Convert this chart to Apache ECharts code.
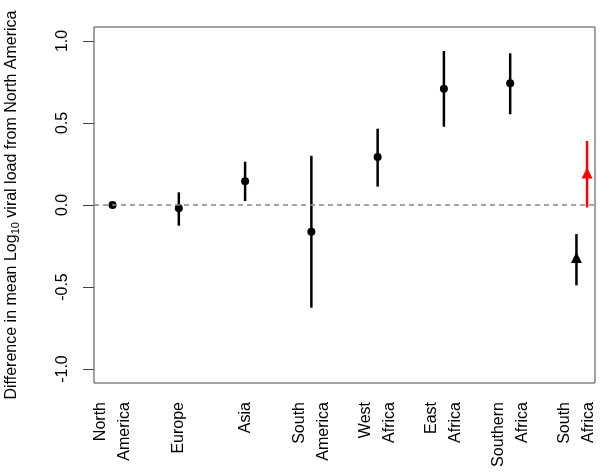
<!DOCTYPE html>
<html>
<head>
<meta charset="utf-8">
<script src="https://cdn.jsdelivr.net/npm/echarts@6/dist/echarts.min.js"></script>
<style>
  html, body { margin: 0; padding: 0; background: #fff; }
  #chart { width: 602px; height: 475px; }
</style>
</head>
<body>
<div id="chart"></div>
<script>
// regions along x, at positions 1..8
const regions = ['North\nAmerica', 'Europe', 'Asia', 'South\nAmerica', 'West\nAfrica', 'East\nAfrica', 'Southern\nAfrica', 'South\nAfrica']
const regionPos = [1, 2, 3, 4, 5, 6, 7, 8]
// mean difference and interval ends (black)
const meanDiff = [0, -0.02, 0.145, -0.163, 0.293, 0.709, 0.742, -0.32]
const lowerCI = [0, -0.126, 0.024, -0.626, 0.112, 0.477, 0.553, -0.49]
const upperCI = [0, 0.077, 0.264, 0.30, 0.465, 0.939, 0.925, -0.177]
// red South Africa estimate, drawn a bit to the right
const redPos = [8.16]
const redMean = [0.195]
const redLower = [-0.015]
const redUpper = [0.39]
const yTicks = [-1, -0.5, 0, 0.5, 1]

let chart = echarts.init(document.getElementById('chart'), null, { renderer: 'canvas' })

// 误差线
function errBar(color) {
  return function (params, api) {
    let p1 = api.coord([api.value(0), api.value(1)])
    let p2 = api.coord([api.value(0), api.value(2)])
    return {
      type: 'line',
      shape: { x1: p1[0], y1: p1[1], x2: p2[0], y2: p2[1] },
      style: { stroke: color, lineWidth: 2.5 }
    }
  }
}

let barData = regionPos.map((x, i) => [x, lowerCI[i], upperCI[i]])
let redBarData = redPos.map((x, i) => [x, redLower[i], redUpper[i]])
let pointData = regionPos.map((x, i) => ({
  value: [x, meanDiff[i]],
  symbol: i === 7 ? 'triangle' : 'circle',
  symbolSize: i === 7 ? 11 : 8
}))
let redPointData = redPos.map((x, i) => [x, redMean[i]])

let option = {
  animation: false,
  grid: {
    left: 94, top: 27, right: 7, bottom: 92,
    outerBoundsMode: 'none',
    show: true, borderColor: '#444', borderWidth: 1
  },
  xAxis: {
    type: 'value',
    min: 0.72,
    max: 8.28,
    axisLine: { show: false },
    axisTick: { show: false },
    splitLine: { show: false },
    axisLabel: {
      customValues: regionPos,
      rotate: 90,
      margin: 19,
      fontFamily: 'Liberation Sans',
      fontSize: 16,
      lineHeight: 24,
      color: '#000',
      formatter: (v) => regions[regionPos.indexOf(v)]
    }
  },
  yAxis: {
    type: 'value',
    min: -1.085,
    max: 1.085,
    name: 'Difference in mean Log{sub|10} viral load from North America',
    nameLocation: 'middle',
    nameRotate: 90,
    nameGap: 73,
    nameTextStyle: {
      fontFamily: 'Liberation Sans',
      fontSize: 16,
      color: '#000',
      rich: {
        sub: { fontSize: 11, fontFamily: 'Liberation Sans', color: '#000', verticalAlign: 'bottom', padding: [8, 0, 0, 0] }
      }
    },
    axisLine: { show: false },
    axisTick: { show: true, customValues: yTicks, length: 11, lineStyle: { color: '#444' } },
    splitLine: { show: false },
    axisLabel: {
      customValues: yTicks,
      rotate: 90,
      margin: 23,
      fontFamily: 'Liberation Sans',
      fontSize: 16,
      color: '#000',
      formatter: (v) => v.toFixed(1)
    }
  },
  series: [
    {
      type: 'custom',
      renderItem: errBar('#000'),
      data: barData,
      encode: { x: 0, y: [1, 2] },
      silent: true
    },
    {
      type: 'custom',
      renderItem: errBar('#ff0000'),
      data: redBarData,
      encode: { x: 0, y: [1, 2] },
      silent: true
    },
    {
      type: 'scatter',
      data: pointData,
      itemStyle: { color: '#000', opacity: 1 },
      markLine: {
        silent: true,
        symbol: 'none',
        label: { show: false },
        lineStyle: { color: '#888', type: [5, 4], width: 1.5 },
        data: [{ yAxis: 0 }]
      }
    },
    {
      type: 'scatter',
      data: redPointData,
      symbol: 'triangle',
      symbolSize: 11,
      itemStyle: { color: '#ff0000', opacity: 1 }
    }
  ]
}
chart.setOption(option)
</script>
</body>
</html>
